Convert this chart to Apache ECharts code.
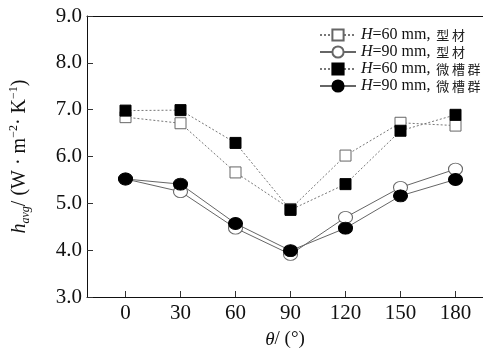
<!DOCTYPE html>
<html>
<head>
<meta charset="utf-8">
<script src="https://cdn.jsdelivr.net/npm/echarts@6/dist/echarts.min.js"></script>
<style>
  html, body { margin: 0; padding: 0; background: #fff; }
  #chart { width: 483px; height: 350px; }
</style>
</head>
<body>
<div id="chart"></div>
<script>
// Inclination angle θ (degrees)
const angles = [0, 30, 60, 90, 120, 150, 180];
// Average heat transfer coefficient h_avg, W·m⁻²·K⁻¹
const h60Profile = [6.84, 6.71, 5.66, 4.88, 6.02, 6.72, 6.66];
const h90Profile = [5.52, 5.25, 4.47, 3.91, 4.70, 5.34, 5.73];
const h60Groove  = [6.98, 6.99, 6.29, 4.86, 5.41, 6.55, 6.89];
const h90Groove  = [5.52, 5.41, 4.57, 3.99, 4.47, 5.16, 5.51];
const seriesNames = ['H60P', 'H90P', 'H60G', 'H90G'];
const legendTexts = {
  H60P: ['60', '型\u2009材'],
  H90P: ['90', '型\u2009材'],
  H60G: ['60', '微\u2009槽\u2009群'],
  H90G: ['90', '微\u2009槽\u2009群']
};

const serif = '"Liberation Serif", "DejaVu Serif", serif';
const cjk = '"Noto Sans CJK SC", sans-serif';

function pairs(vals) { return angles.map((a, i) => [a, vals[i]]); }

const dotted = { color: '#777', width: 1, type: [2, 2] };
const solid = { color: '#666', width: 1, type: 'solid' };

const chart = echarts.init(document.getElementById('chart'), null, { renderer: 'canvas' });
chart.setOption({
  animation: false,
  backgroundColor: '#fff',
  grid: { left: 87, right: 0, top: 16, bottom: 53, outerBoundsMode: 'none', containLabel: false },
  legend: {
    orient: 'vertical',
    left: 314,
    top: 22,
    padding: 5,
    itemGap: 1,
    itemWidth: 36,
    itemHeight: 14,
    data: seriesNames,
    formatter: name => '{i|H}{t|=' + legendTexts[name][0] + ' mm,}{c|  ' + legendTexts[name][1] + '}',
    textStyle: {
      rich: {
        i: { fontFamily: serif, fontStyle: 'italic', fontSize: 16, lineHeight: 17.8, color: '#111' },
        t: { fontFamily: serif, fontSize: 16, lineHeight: 17.8, color: '#111' },
        c: { fontFamily: cjk, fontSize: 13, lineHeight: 17.8, color: '#222' }
      }
    }
  },
  xAxis: [{
    type: 'value',
    min: -21,
    max: 195,
    axisLine: { onZero: false, lineStyle: { color: '#111', width: 1 } },
    axisTick: { inside: true, length: 6, customValues: angles, lineStyle: { color: '#333' } },
    axisLabel: {
      customValues: angles,
      fontFamily: serif, fontSize: 21, color: '#111', margin: 6
    },
    splitLine: { show: false },
    name: '{i|θ}{t|/ (°)}',
    nameLocation: 'middle',
    nameGap: 33,
    nameTextStyle: {
      rich: {
        i: { fontFamily: serif, fontStyle: 'italic', fontSize: 19, color: '#111' },
        t: { fontFamily: serif, fontSize: 19, color: '#111' }
      }
    }
  }, {
    type: 'value',
    position: 'top',
    min: -21,
    max: 195,
    axisLine: { show: true, onZero: false, lineStyle: { color: '#111', width: 1 } },
    axisTick: { show: false },
    axisLabel: { show: false },
    splitLine: { show: false }
  }],
  yAxis: {
    type: 'value',
    min: 3,
    max: 9,
    interval: 1,
    axisLine: { show: true, onZero: false, lineStyle: { color: '#111', width: 1 } },
    axisTick: { show: true, inside: true, length: 6, lineStyle: { color: '#333' } },
    axisLabel: {
      formatter: v => v.toFixed(1),
      fontFamily: serif, fontSize: 21, color: '#111', margin: 5
    },
    splitLine: { show: false },
    name: '{i|h}{s|avg}{t|/ (W · m}{p|−2}{t|· K}{p|−1}{t|)}',
    nameLocation: 'middle',
    nameRotate: 90,
    nameGap: 55,
    nameTextStyle: {
      rich: {
        i: { fontFamily: serif, fontStyle: 'italic', fontSize: 20, color: '#111', lineHeight: 24 },
        t: { fontFamily: serif, fontSize: 20, color: '#111', lineHeight: 24 },
        s: { fontFamily: serif, fontStyle: 'italic', fontSize: 12, color: '#111', lineHeight: 12, verticalAlign: 'bottom' },
        p: { fontFamily: serif, fontSize: 12, color: '#111', lineHeight: 12, verticalAlign: 'top' }
      }
    }
  },
  series: [
    {
      name: 'H60P', type: 'line', data: pairs(h60Profile),
      symbol: 'rect', symbolSize: 11,
      lineStyle: dotted,
      itemStyle: { color: '#fff', borderColor: '#666', borderWidth: 1 }
    },
    {
      name: 'H90P', type: 'line', data: pairs(h90Profile),
      symbol: 'circle', symbolSize: [14, 12],
      lineStyle: solid,
      itemStyle: { color: '#fff', borderColor: '#666', borderWidth: 1 }
    },
    {
      name: 'H60G', type: 'line', data: pairs(h60Groove),
      symbol: 'rect', symbolSize: 11,
      lineStyle: dotted,
      itemStyle: { color: '#000', borderColor: '#000', borderWidth: 1 }
    },
    {
      name: 'H90G', type: 'line', data: pairs(h90Groove),
      symbol: 'circle', symbolSize: [14, 12],
      lineStyle: solid,
      itemStyle: { color: '#000', borderColor: '#000', borderWidth: 1 }
    }
  ]
});
</script>
</body>
</html>
